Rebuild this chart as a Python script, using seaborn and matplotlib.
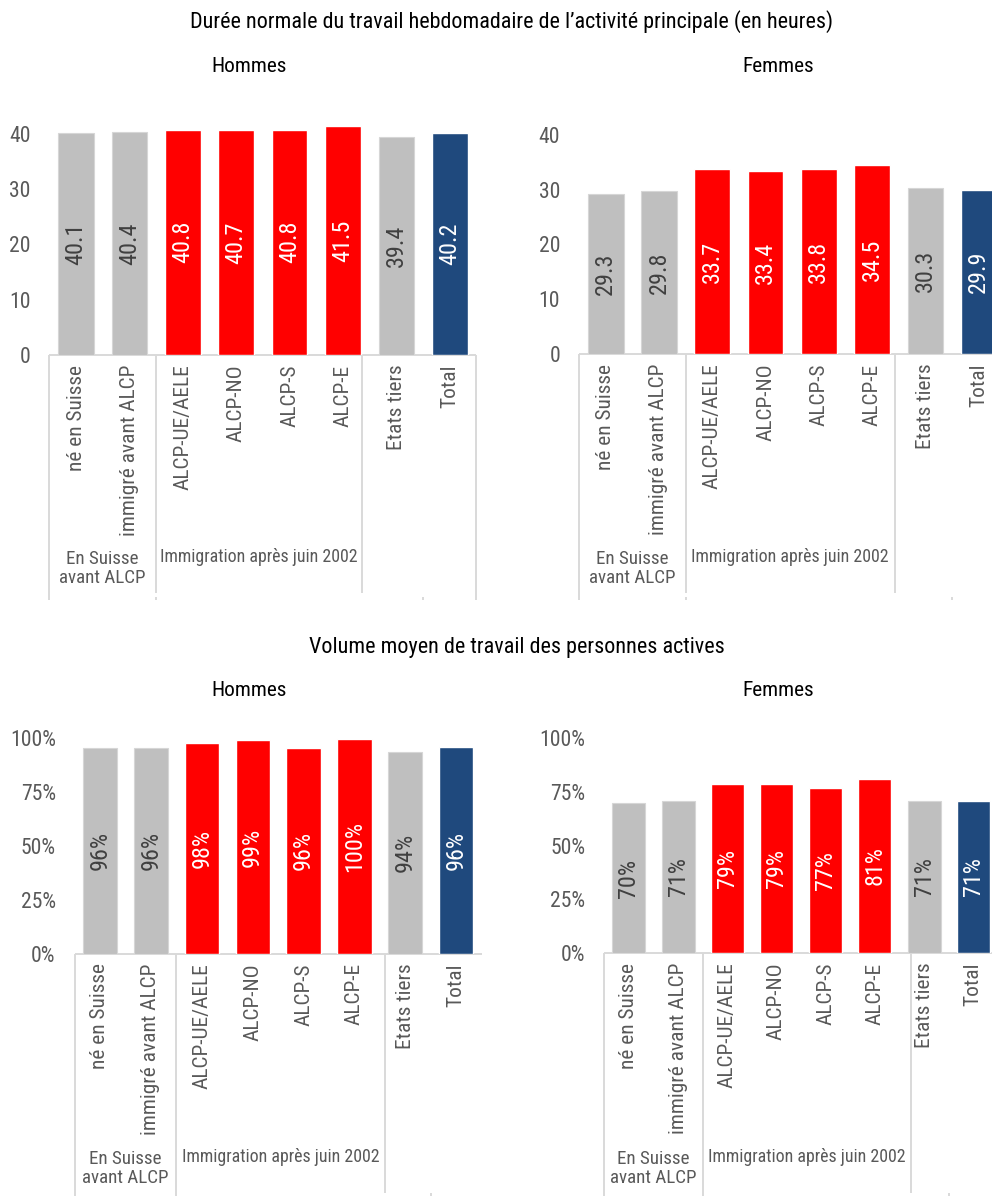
import matplotlib
matplotlib.use("Agg")
import matplotlib.pyplot as plt
import matplotlib.transforms as mtransforms
from matplotlib import font_manager as fm
from matplotlib.textpath import TextPath
from matplotlib.ticker import PercentFormatter, FixedLocator
import seaborn as sns
import pandas as pd

# ---- data -------------------------------------------------------------
categories = ["né en Suisse", "immigré avant ALCP", "ALCP-UE/AELE", "ALCP-NO",
              "ALCP-S", "ALCP-E", "Etats tiers", "Total"]
hours_men = [40.1, 40.4, 40.8, 40.7, 40.8, 41.5, 39.4, 40.2]
hours_women = [29.3, 29.8, 33.7, 33.4, 33.8, 34.5, 30.3, 29.9]
volume_men = [0.958, 0.956, 0.978, 0.991, 0.957, 0.996, 0.938, 0.961]
volume_women = [0.697, 0.707, 0.786, 0.786, 0.769, 0.811, 0.708, 0.709]
hour_ticks = [0, 10, 20, 30, 40]
volume_ticks = [0, 0.25, 0.5, 0.75, 1.0]
group_before = "En Suisse\navant ALCP"
group_after = "Immigration après juin 2002"
title_hours = "Durée normale du travail hebdomadaire de l’activité principale (en heures)"
title_volume = "Volume moyen de travail des personnes actives"
sex_labels = ["Hommes", "Femmes"]

# ---- style ------------------------------------------------------------
GRAY, RED, BLUE = "#bfbfbf", "#ff0000", "#1f497d"
bar_colors = [GRAY, GRAY, RED, RED, RED, RED, GRAY, BLUE]
LINE = "#d9d9d9"
TXT = "#595959"
DARK = "#404040"

sns.set_style("white")
available = {f.name for f in fm.fontManager.ttflist}
FONT = next((n for n in ["Liberation Sans Narrow", "Arial Narrow",
                         "Roboto Condensed", "Archivo Narrow",
                         "Pragati Narrow", "PT Sans Narrow",
                         "IBM Plex Sans Condensed", "Liberation Sans"]
             if n in available), "DejaVu Sans")
plt.rcParams["font.family"] = [FONT, "DejaVu Sans"]
PROP = fm.FontProperties(family=[FONT, "DejaVu Sans"])


def fit_size(text, target_px):
    """point size at which `text` is about `target_px` pixels wide (100 dpi)"""
    w = TextPath((0, 0), text, size=10, prop=PROP).get_extents().width
    return 10 * target_px / (w * 100 / 72)


FS_TITLE = fit_size(title_hours, 641)
FS_SEX = fit_size("Hommes", 73)
FS_TICK = fit_size("100%", 43)
FS_CAT = fit_size("ALCP-UE/AELE", 125)
FS_VAL = fit_size("40.1", 37)
FS_GROUP = fit_size(group_after, 195)
FS_GROUP2 = (fit_size("avant ALCP", 84) + fit_size("En Suisse", 71)) / 2

W, H = 992, 1196
fig = plt.figure(figsize=(W / 100, H / 100), dpi=100)


def fy(py):
    """figure fraction from a pixel row measured from the top"""
    return 1 - py / H


def panel(values, left, base, unit_px, step_px, ymax, ticks, pct, sep,
          line_bottom, inner_bottom, label_y, right_line):
    height = ymax * unit_px
    width = 8 * step_px
    ax = fig.add_axes([left / W, fy(base), width / W, height / H])
    df = pd.DataFrame({"cat": categories, "val": values})
    sns.barplot(data=df, x="cat", y="val", hue="cat", palette=bar_colors,
                saturation=1, width=0.67, legend=False, ax=ax, zorder=2)
    for p, c in zip(ax.patches, bar_colors):
        if c == GRAY:
            p.set_edgecolor("#d6d6d6")
            p.set_linewidth(0.8)
    ax.set_xlim(-0.5, 7.5)
    ax.set_ylim(0, ymax)
    ax.yaxis.set_major_locator(FixedLocator(ticks))
    if pct:
        ax.yaxis.set_major_formatter(PercentFormatter(1.0, decimals=0))
    ax.tick_params(axis="y", length=0, pad=13.5, labelsize=FS_TICK,
                   labelcolor=TXT)
    ax.set_xticks(range(8))
    ax.set_xticklabels(categories, rotation=90, va="top", ha="center")
    ax.tick_params(axis="x", length=0, pad=7, labelsize=FS_CAT,
                   labelcolor=TXT)
    ax.set_xlabel("")
    ax.set_ylabel("")
    for s in ax.spines.values():
        s.set_visible(False)
    ax.grid(False)

    # values written inside the bars
    for i, (v, c) in enumerate(zip(values, bar_colors)):
        txt = f"{v:.0%}" if pct else f"{v:.1f}"
        ax.text(i, v / 2, txt, rotation=90, ha="center", va="center",
                fontsize=FS_VAL, color=DARK if c == GRAY else "white",
                zorder=3)

    # multi-level category axis
    tr = mtransforms.blended_transform_factory(ax.transData, fig.transFigure)
    kw = dict(transform=tr, color=LINE, lw=1.4, clip_on=False,
              solid_capstyle="butt")
    ax.plot([-0.5, 7.5], [fy(base), fy(base)], zorder=1, **kw)
    ax.plot([-0.5, -0.5], [fy(base), fy(line_bottom)], **kw)
    if right_line:
        ax.plot([7.5, 7.5], [fy(base), fy(line_bottom)], **kw)
    for xs in (1.5, sep):
        ax.plot([xs, xs], [fy(base), fy(inner_bottom)], **kw)
    for xs in (1.5, 6.5):
        ax.plot([xs, xs], [fy(line_bottom - 3), fy(line_bottom)], **kw)
    ax.text(0.5, fy(label_y + 11.5), group_before, transform=tr,
            ha="center", va="center", fontsize=FS_GROUP2, color=TXT,
            linespacing=1.05)
    ax.text((1.5 + sep) / 2, fy(label_y), group_after, transform=tr,
            ha="center", va="center", fontsize=FS_GROUP, color=TXT)
    return ax


panel(hours_men, 49.3, 355, 5.525, 53.4, 42, hour_ticks, False, 5.36,
      600, 593, 557, True)
panel(hours_women, 579, 354, 5.475, 53.3, 42, hour_ticks, False, 5.42,
      600, 593, 557, True)
panel(volume_men, 74.5, 953.5, 215, 50.9, 1.02, volume_ticks, True, 5.6,
      1196, 1193, 1157, False)
panel(volume_women, 604.3, 953, 215, 49.2, 1.02, volume_ticks, True, 5.73,
      1196, 1193, 1157, False)

# headings
fig.text(512 / W, fy(22), title_hours, ha="center", va="center",
         fontsize=FS_TITLE, color="black")
fig.text(517 / W, fy(648), title_volume, ha="center", va="center",
         fontsize=FS_TITLE, color="black")
for yy in (66, 690):
    fig.text(249 / W, fy(yy), sex_labels[0], ha="center", va="center",
             fontsize=FS_SEX, color="black")
    fig.text(778 / W, fy(yy), sex_labels[1], ha="center", va="center",
             fontsize=FS_SEX, color="black")

fig.savefig("out.png", dpi=100)
